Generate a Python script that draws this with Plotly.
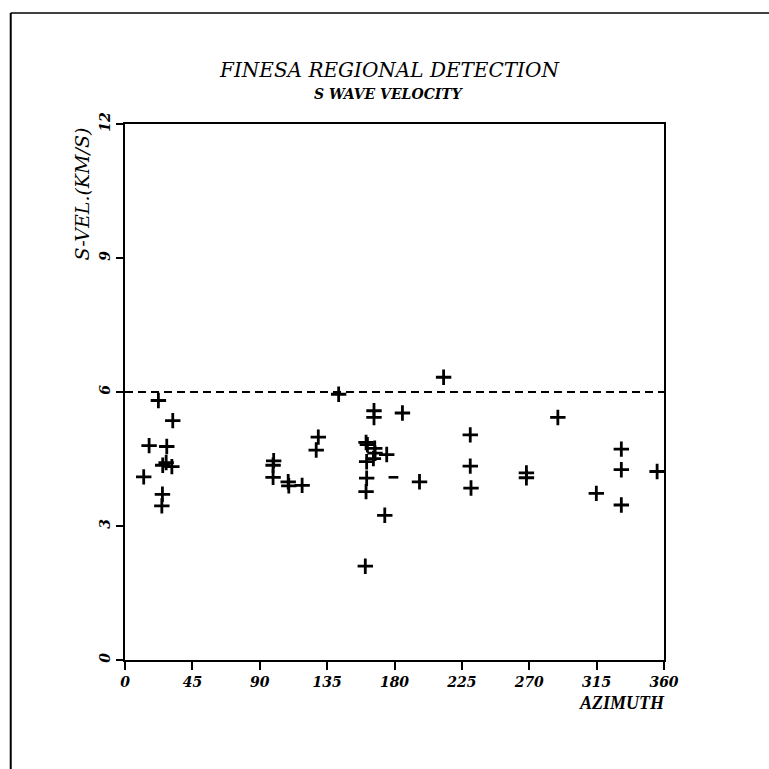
import plotly.graph_objects as go

# S-wave velocity picks (km/s) against azimuth (degrees)
azimuth = [22.3, 31.9, 16.1, 27.9, 25.2, 27.5, 31.3, 12.5, 25.0, 24.6,
           99.3, 98.9, 98.9, 109.0, 109.4, 118.3, 129.1, 127.7, 142.7,
           166.3, 166.3, 185.3, 161.0, 161.9, 166.8, 167.0, 165.9, 174.8,
           161.4, 161.4, 161.0, 173.5, 160.5, 196.7,
           212.8, 230.6, 230.6, 231.1, 268.1, 268.1, 289.1,
           314.8, 331.5, 331.5, 331.5, 355.4]
s_velocity = [5.81, 5.36, 4.80, 4.78, 4.36, 4.42, 4.33, 4.10, 3.71, 3.45,
              4.46, 4.36, 4.09, 3.99, 3.90, 3.91, 4.99, 4.70, 5.95,
              5.58, 5.43, 5.53, 4.87, 4.82, 4.74, 4.63, 4.51, 4.60,
              4.44, 4.07, 3.77, 3.24, 2.10, 3.99,
              6.33, 5.04, 4.34, 3.85, 4.19, 4.08, 5.43,
              3.73, 4.72, 4.26, 3.47, 4.22]

# a pick printed as a bare dash
dash_azimuth = [179.3]
dash_velocity = [4.09]

reference_velocity = 6.0
x_ticks = [0, 45, 90, 135, 180, 225, 270, 315, 360]
y_ticks = [0, 3, 6, 9, 12]

SERIF = "Liberation Serif"
WIDE_SERIF = "DejaVu Serif"

fig = go.Figure()

# reference velocity
fig.add_trace(go.Scatter(
    x=[x_ticks[0], x_ticks[-1]], y=[reference_velocity, reference_velocity],
    mode="lines", line=dict(color="black", width=2, dash="8px,5px"),
    hoverinfo="skip", showlegend=False))

fig.add_trace(go.Scatter(
    x=azimuth, y=s_velocity, mode="markers",
    marker=dict(symbol="cross-thin", size=11,
                line=dict(color="black", width=2.8)),
    showlegend=False))

fig.add_trace(go.Scatter(
    x=dash_azimuth, y=dash_velocity, mode="markers",
    marker=dict(symbol="line-ew", size=7,
                line=dict(color="black", width=2.6)),
    showlegend=False))

tick_font = dict(family=WIDE_SERIF, size=14, color="black", weight="bold", style="italic")

fig.update_xaxes(range=[0, 360], tickvals=x_ticks, ticktext=[str(v) for v in x_ticks],
                 showline=True, mirror=True, linecolor="black", linewidth=2,
                 ticks="outside", ticklen=8, tickwidth=2, tickcolor="black",
                 showgrid=False, zeroline=False, tickfont=tick_font)
fig.update_yaxes(range=[0, 12], tickvals=y_ticks, ticktext=[str(v) for v in y_ticks],
                 showline=True, mirror=True, linecolor="black", linewidth=2,
                 ticks="outside", ticklen=7, tickwidth=2, tickcolor="black",
                 tickangle=-90,
                 showgrid=False, zeroline=False, tickfont=tick_font)

annotations = [
    dict(text="FINESA REGIONAL DETECTION", x=0.49, y=1.1, xref="paper", yref="paper",
         xanchor="center", yanchor="middle", showarrow=False,
         font=dict(family=WIDE_SERIF, size=20, color="black", style="italic")),
    dict(text="S WAVE VELOCITY", x=0.49, y=1.056, xref="paper", yref="paper",
         xanchor="center", yanchor="middle", showarrow=False,
         font=dict(family=WIDE_SERIF, size=14, color="black", style="italic", weight="bold")),
    dict(text="S-VEL.(KM/S)", x=-0.08, y=0.87, xref="paper", yref="paper",
         xanchor="center", yanchor="middle", showarrow=False, textangle=-90,
         font=dict(family=WIDE_SERIF, size=19, color="black", style="italic")),
    dict(text="AZIMUTH", x=1.005, y=-0.08, xref="paper", yref="paper",
         xanchor="right", yanchor="middle", showarrow=False,
         font=dict(family=SERIF, size=18, color="black", style="italic", weight="bold")),
]

# page frame (top and left edges)
shapes = [
    dict(type="line", xref="paper", yref="paper", x0=-0.212, x1=1.2, y0=1.207, y1=1.207,
         line=dict(color="black", width=1.5)),
    dict(type="line", xref="paper", yref="paper", x0=-0.212, x1=-0.212, y0=1.207, y1=-0.21,
         line=dict(color="black", width=2)),
]

fig.update_layout(
    width=769, height=769, autosize=False,
    margin=dict(l=125, r=105, t=124, b=109),
    paper_bgcolor="white", plot_bgcolor="white",
    annotations=annotations, shapes=shapes,
)

fig.write_html("out.html")
